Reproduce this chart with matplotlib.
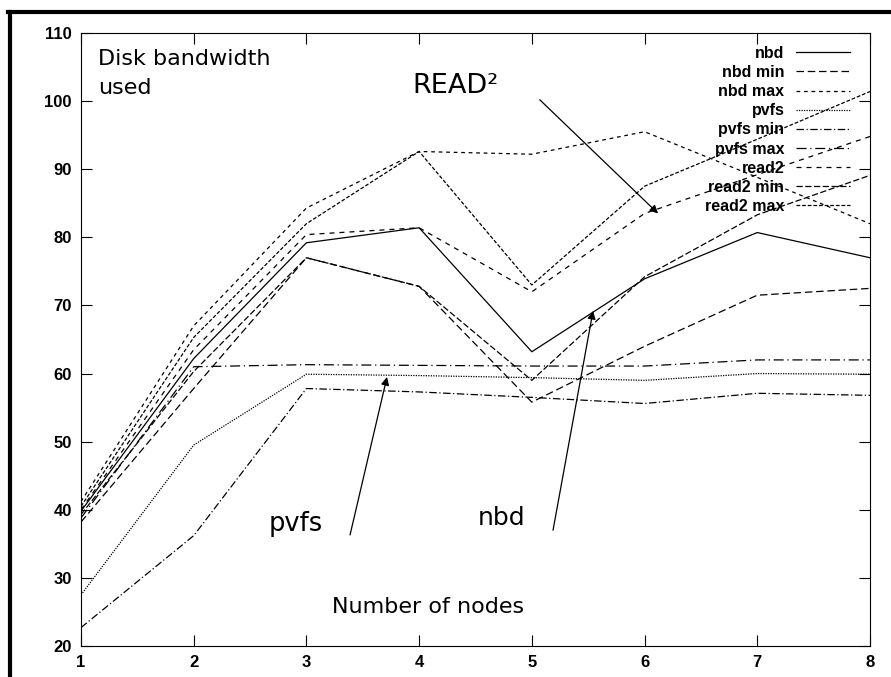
import matplotlib.pyplot as plt
from matplotlib.lines import Line2D

# Data
nodes = [1, 2, 3, 4, 5, 6, 7, 8]
nbd = [39.8, 62.2, 79.2, 81.4, 63.2, 73.9, 80.7, 77.0]
nbd_min = [38.2, 57.8, 77.0, 72.8, 55.8, 64.0, 71.5, 72.5]
nbd_max = [41.2, 67.0, 84.3, 92.6, 92.2, 95.5, 88.8, 82.0]
pvfs = [27.5, 49.5, 59.9, 59.7, 59.4, 59.0, 60.0, 59.9]
pvfs_min = [22.7, 36.2, 57.8, 57.3, 56.5, 55.6, 57.1, 56.8]
pvfs_max = [38.8, 61.0, 61.3, 61.2, 61.1, 61.1, 62.0, 62.0]
read2 = [40.0, 63.5, 80.4, 81.4, 72.0, 83.5, 89.2, 94.8]
read2_min = [39.3, 60.3, 77.0, 72.8, 59.0, 74.2, 83.3, 89.1]
read2_max = [40.5, 65.3, 82.0, 92.6, 73.0, 87.5, 94.4, 101.4]

series = [
    ('nbd', nbd, '-'),
    ('nbd min', nbd_min, (0, (6, 3))),
    ('nbd max', nbd_max, (0, (3, 3))),
    ('pvfs', pvfs, (0, (1, 1))),
    ('pvfs min', pvfs_min, (0, (6, 2, 1, 2))),
    ('pvfs max', pvfs_max, (0, (8, 3, 1, 3))),
    ('read2', read2, (0, (4, 4))),
    ('read2 min', read2_min, (0, (5, 2))),
    ('read2 max', read2_max, (0, (3, 1.5))),
]

fig = plt.figure(figsize=(8.91, 6.77), dpi=100)
ax = fig.add_axes([0.0909, 0.0458, 0.8855, 0.9055])

for name, vals, ls in series:
    ax.plot(nodes, vals, color='black', linestyle=ls, linewidth=0.9, label=name)

ax.set_xlim(1, 8)
ax.set_ylim(20, 110)
ax.set_xticks(nodes)
ax.set_yticks(range(20, 111, 10))
ax.tick_params(direction='in', length=8, width=0.8, top=True, right=True, pad=6.5)
for lab in ax.get_xticklabels() + ax.get_yticklabels():
    lab.set_fontfamily('Liberation Sans')
    lab.set_fontweight('bold')
    lab.set_fontsize(12)
for sp in ax.spines.values():
    sp.set_linewidth(0.8)

leg = ax.legend(loc='upper right', bbox_to_anchor=(0.9745, 0.979), frameon=False,
                markerfirst=False, handlelength=3.4, handletextpad=0.7,
                labelspacing=0.26, borderaxespad=0, borderpad=0,
                prop={'family': 'Liberation Sans', 'weight': 'bold', 'size': 11.5})

# Annotations
txt = dict(family='DejaVu Sans', color='black')
ax.text(1.151, 105.3, 'Disk bandwidth', ha='left', va='baseline', fontsize=16, **txt)
ax.text(1.151, 101.0, 'used', ha='left', va='baseline', fontsize=16, **txt)
ax.text(4.323, 101.2, 'READ²', ha='center', va='baseline', fontsize=19.5, **txt)
ax.text(2.908, 36.9, 'pvfs', ha='center', va='baseline', fontsize=18.5, **txt)
ax.text(4.727, 37.75, 'nbd', ha='center', va='baseline', fontsize=18, **txt)
ax.text(4.079, 24.8, 'Number of nodes', ha='center', va='baseline', fontsize=16, **txt)

arrow = dict(arrowstyle='-|>', color='black', lw=0.9, mutation_scale=12, shrinkA=0, shrinkB=0)
ax.annotate('', xy=(6.12, 83.5), xytext=(5.07, 100.2), arrowprops=arrow)
ax.annotate('', xy=(3.715, 59.5), xytext=(3.387, 36.3), arrowprops=arrow)
ax.annotate('', xy=(5.543, 69.2), xytext=(5.188, 37.0), arrowprops=arrow)

# Slide frame (left and top edges)
fig.add_artist(Line2D([0.0112, 0.0112], [0.0, 0.982], color='black', linewidth=3,
                      transform=fig.transFigure))
fig.add_artist(Line2D([0.0095, 1.0], [0.982, 0.982], color='black', linewidth=3,
                      transform=fig.transFigure))

plt.savefig('out.png', dpi=100)
